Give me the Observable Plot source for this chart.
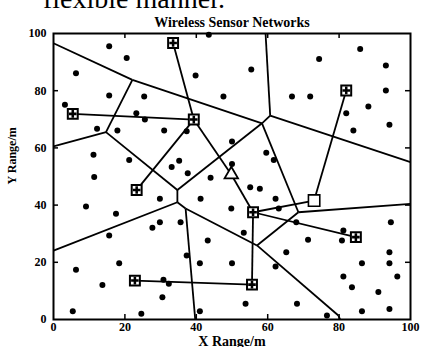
<!DOCTYPE html>
<html><head><meta charset="utf-8">
<script src="https://cdn.jsdelivr.net/npm/d3@7"></script>
<script src="https://cdn.jsdelivr.net/npm/@observablehq/plot@0.6"></script>
<style>
body{margin:0;background:#fff;}
#wrap{position:relative;width:422px;height:347px;overflow:hidden;}
#above{position:absolute;left:43px;top:-15px;font:28px/28px "Liberation Serif",serif;color:#000;white-space:nowrap;z-index:2;}
</style></head><body>
<div id="wrap"><div id="above"></div><div id="chart"></div></div>
<script>
const aboveText = "flexible manner.";
const title = "Wireless Sensor Networks";
const xLabel = "X Range/m";
const yLabel = "Y Range/m";
const tickValues = [0, 20, 40, 60, 80, 100];
const innerTicks = [20, 40, 60, 80];

// ordinary sensor nodes
const sensorX = [15.6,20.5,6.3,15.6,25.4,39.8,47.6,3.2,23.2,25.6,12.2,17.9,31,37.3,11.2,21.2,33.1,43.5,
  85.9,74.4,93.1,55.4,93.1,66.8,71.9,88.2,82,94.1,84,50,59.6,61.7,50,35.2,11.4,37.6,44,29.8,41.2,
  9.1,17.5,29.8,35.6,27.7,15.6,43.2,37.3,18.4,41,6.3,30.8,32.3,13.7,30.5,5.4,24.6,41,
  55.1,57.8,62.2,49.8,63.1,68,53.3,81.2,94.5,71.3,80.8,65.2,94.1,50,86.4,94.1,62.2,81.2,96.3,
  83.6,91,53.8,68.2,86.4,94.1,76.6];
const sensorY = [95.5,91.4,86.1,78.3,78,85.3,78,75.1,72.1,69.9,66.7,66.1,66.1,65.8,57.6,55.8,53.3,99.6,
  94.6,91.1,88.8,87.4,80.1,78,78,74.5,72.1,68.1,66.1,62.2,58.3,55.8,54.4,55.5,49.8,51.1,49.6,42.2,42.2,
  39.5,37,34,34,32.1,29.4,27.6,22.4,19.7,19.7,17.4,13.9,12.5,12.1,7.8,2.9,2,2.9,
  46.2,45.7,42.2,38.8,38.8,34,30.3,31.1,34,27.9,27.6,23.5,23.5,19.7,19.7,19.7,18.5,15,15,
  11.3,9.6,5.5,5.5,2.9,3.7,1.4];

// cluster heads, sink and relay
const headName = ["H1","H2","H3","H4","H5","H6","H7","H8","H9"];
const headX = [33.5,5.4,39.3,82,23.3,55.9,84.7,22.8,55.6];
const headY = [96.7,71.9,69.9,80.1,45.3,37.5,28.8,13.6,12.2];
const sinkX = [73], sinkY = [41.6];
const relayX = [49.8], relayY = [50.7];

// routing links
const linkFrom = ["H1","H2","H5","H3","T","H8","H9","H7","H6","H4"];
const linkTo   = ["H3","H3","H3","T","H6","H9","H6","H6","S","S"];

// partition (cell boundary) vertices and edges
const vertexName = ["P0","A","A2","L1","V1","V2","L2","E","B1","B2","T1","R1","C","R2","D","K","Bot1","Bot2"];
const vertexX = [0,22.1,14.7,0,34.7,34.7,0,37,58.4,60.7,59.4,100,68.6,100,57,79.8,80.3,39.7];
const vertexY = [96.6,83.8,65.5,60.5,45.3,41,24.1,38.8,68.6,71.3,100,55,37.5,40.4,25.9,1.4,0,0];
const edgeFrom = ["P0","A","A","A2","A2","V1","V1","V2","V2","E","E","B1","B1","B2","B2","C","C","D","K"];
const edgeTo   = ["A","A2","B1","L1","V1","V2","B1","L2","E","D","Bot2","B2","C","T1","R1","R2","D","K","Bot1"];

document.getElementById("above").textContent = aboveText;

const sensors = sensorX.map((x, i) => ({x, y: sensorY[i]}));
const heads = headX.map((x, i) => ({name: headName[i], x, y: headY[i]}));
const sink = sinkX.map((x, i) => ({x, y: sinkY[i]}));
const relay = relayX.map((x, i) => ({x, y: relayY[i]}));
const nodes = new Map(heads.map(d => [d.name, d]));
nodes.set("S", sink[0]); nodes.set("T", relay[0]);
const links = linkFrom.map((f, i) => ({a: nodes.get(f), b: nodes.get(linkTo[i])}));
const verts = new Map(vertexName.map((n, i) => [n, {x: vertexX[i], y: vertexY[i]}]));
const edges = edgeFrom.map((f, i) => ({a: verts.get(f), b: verts.get(edgeTo[i])}));

const W = 422, H = 347, mL = 53, mR = 12, mT = 33, mB = 28;
const fw = W - mL - mR, fh = H - mT - mB, tl = 5;

const chart = Plot.plot({
  width: W, height: H,
  marginLeft: mL, marginRight: mR, marginTop: mT, marginBottom: mB,
  x: {domain: [0, 100]},
  y: {domain: [0, 100]},
  style: {fontFamily: '"Liberation Serif", "Times New Roman", serif', fontWeight: "bold", color: "#000", background: "#fff", overflow: "visible"},
  marks: [
    Plot.link(edges, {x1: d => d.a.x, y1: d => d.a.y, x2: d => d.b.x, y2: d => d.b.y, stroke: "black", strokeWidth: 1.8}),
    Plot.link(links, {x1: d => d.a.x, y1: d => d.a.y, x2: d => d.b.x, y2: d => d.b.y, stroke: "black", strokeWidth: 1.8}),
    Plot.dot(sensors, {x: "x", y: "y", r: 3, fill: "black"}),
    Plot.dot(heads, {x: "x", y: "y", symbol: "square", r: 5.6, fill: "white", stroke: "black", strokeWidth: 2}),
    Plot.dot(heads, {x: "x", y: "y", symbol: "cross", r: 3.2, fill: "black"}),
    Plot.dot(sink, {x: "x", y: "y", symbol: "square", r: 6.4, fill: "white", stroke: "black", strokeWidth: 1.6}),
    Plot.dot(relay, {x: "x", y: "y", symbol: "triangle", r: 5, fill: "white", stroke: "black", strokeWidth: 1.8}),
    Plot.tickX(innerTicks, {x: d => d, insetTop: fh - tl, stroke: "black", strokeWidth: 1.5}),
    Plot.tickX(innerTicks, {x: d => d, insetBottom: fh - tl, stroke: "black", strokeWidth: 1.5}),
    Plot.tickY(innerTicks, {y: d => d, insetRight: fw - tl, stroke: "black", strokeWidth: 1.5}),
    Plot.tickY(innerTicks, {y: d => d, insetLeft: fw - tl, stroke: "black", strokeWidth: 1.5}),
    Plot.frame({stroke: "black", strokeWidth: 2}),
    Plot.axisX({anchor: "bottom", ticks: tickValues, tickSize: 0, tickPadding: 3, fontSize: 12, label: null}),
    Plot.axisY({anchor: "left", ticks: tickValues, tickSize: 0, tickPadding: 7, fontSize: 12, label: null}),
    Plot.text([title], {text: d => d, frameAnchor: "top", dy: -16, fontSize: 14}),
    Plot.text([xLabel], {text: d => d, frameAnchor: "bottom", lineAnchor: "bottom", dy: 26.5, fontSize: 14}),
    Plot.text([yLabel], {text: d => d, frameAnchor: "left", dx: -41, dy: 8, rotate: -90, fontSize: 12})
  ]
});
document.getElementById("chart").appendChild(chart);
</script>
</body></html>
